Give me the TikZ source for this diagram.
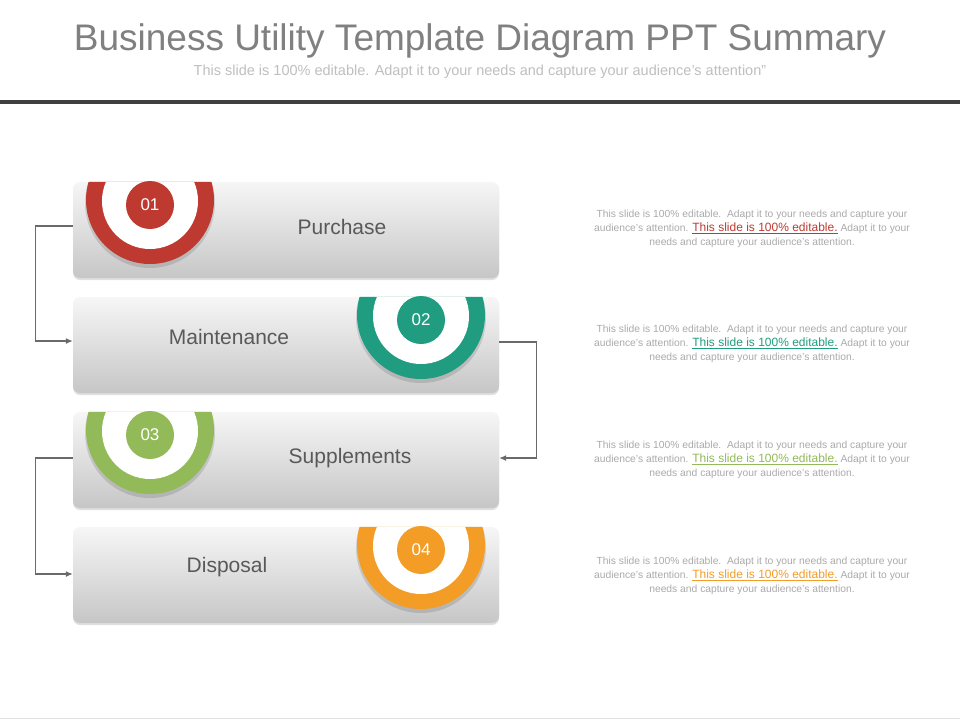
\documentclass[tikz,border=0pt]{standalone}
\usepackage{fontspec}
\setmainfont{Liberation Sans}
\usetikzlibrary{positioning,shadows,arrows.meta}
\definecolor{cRed}{RGB}{190,58,49}
\definecolor{cTeal}{RGB}{32,157,128}
\definecolor{cGreen}{RGB}{146,186,88}
\definecolor{cOrange}{RGB}{243,157,38}
\definecolor{txtgray}{RGB}{89,89,89}
\definecolor{titlegray}{RGB}{128,128,128}
\definecolor{paletext}{RGB}{170,170,170}
\definecolor{rulegray}{RGB}{64,64,64}
\definecolor{boxtop}{RGB}{246,246,246}
\definecolor{boxbot}{RGB}{198,198,198}
\tikzstyle{stepbox}=[rounded corners=7pt,minimum width=426pt,minimum height=96pt,inner sep=0pt,top color=boxtop,bottom color=boxbot,drop shadow={opacity=0.25,shadow xshift=0pt,shadow yshift=-2pt}]
\tikzstyle{lbl}=[font=\fontsize{21}{24}\selectfont,text=txtgray,inner sep=0pt]
\tikzstyle{numdot}=[circle,minimum size=48pt,inner sep=0pt,text=white,font=\fontsize{17}{19}\selectfont]
\tikzstyle{note}=[align=center,text=paletext,font=\fontsize{10.3}{14}\selectfont,inner sep=0pt]
\tikzstyle{conn}=[draw=txtgray!90,line width=1.2pt,-{Latex[length=7pt,width=6pt]}]
\newcommand{\editlink}[1]{{\fontsize{12}{14}\selectfont\color{#1}\underline{This slide is 100\% editable.}}}

\begin{document}
\begin{tikzpicture}[x=1pt,y=-1pt]
\useasboundingbox (0,0) rectangle (960,720);
\fill[white] (0,0) rectangle (960,720);
% heading
\draw (480,41) node [font=\fontsize{37}{40}\selectfont,text=titlegray] (title) {Business Utility Template Diagram PPT Summary};
\draw (480,72) node [font=\fontsize{14.5}{16}\selectfont,text=black!25] (sub) {This slide is 100\% editable. Adapt it to your needs and capture your audience's attention''};
\fill[rulegray] (0,100) rectangle (960,104);
\draw[black!12] (0,718) -- (960,718);
% boxes
\draw (286,230) node [stepbox] (b1) {};
\draw (286,345) node [stepbox] (b2) {};
\draw (286,460) node [stepbox] (b3) {};
\draw (286,575) node [stepbox] (b4) {};
% rings
\begin{scope}
\clip[rounded corners=7pt] (b1.south west) rectangle (b1.north east);
\fill[black,opacity=0.12] (150,203) circle (65pt);
\fill[cRed] (150,200) circle (64pt);
\fill[white] (150,201) circle (48pt);
\end{scope}
\begin{scope}
\clip[rounded corners=7pt] (b2.south west) rectangle (b2.north east);
\fill[black,opacity=0.12] (421,318) circle (65pt);
\fill[cTeal] (421,315) circle (64pt);
\fill[white] (421,316) circle (48pt);
\end{scope}
\begin{scope}
\clip[rounded corners=7pt] (b3.south west) rectangle (b3.north east);
\fill[black,opacity=0.12] (150,433) circle (65pt);
\fill[cGreen] (150,430) circle (64pt);
\fill[white] (150,431) circle (48pt);
\end{scope}
\begin{scope}
\clip[rounded corners=7pt] (b4.south west) rectangle (b4.north east);
\fill[black,opacity=0.12] (421,548) circle (65pt);
\fill[cOrange] (421,545) circle (64pt);
\fill[white] (421,546) circle (48pt);
\end{scope}
\draw (150,205) node [numdot,fill=cRed] (d1) {01};
\draw (421,320) node [numdot,fill=cTeal] (d2) {02};
\draw (150,435) node [numdot,fill=cGreen] (d3) {03};
\draw (421,550) node [numdot,fill=cOrange] (d4) {04};
% labels
\draw (342,227) node [lbl] (l1) {Purchase};
\draw (229,337) node [lbl] (l2) {Maintenance};
\draw (350,458) node [lbl] (l3) {Supplements};
\draw (227,567) node [lbl] (l4) {Disposal};
% flow
\draw[conn] ([yshift=4pt]b1.west) -- ++(-37,0) |- ([yshift=4pt]b2.west);
\draw[conn] ([yshift=3pt]b2.east) -- ++(37,0) |- ([yshift=2pt]b3.east);
\draw[conn] ([yshift=2pt]b3.west) -- ++(-37,0) |- ([yshift=1pt]b4.west);
% notes
\draw (752,229) node [note] (t1) {This slide is 100\% editable.\ \ Adapt it to your needs and capture your\\audience's attention. \editlink{cRed} Adapt it to your\\needs and capture your audience's attention.};
\draw (752,344) node [note] (t2) {This slide is 100\% editable.\ \ Adapt it to your needs and capture your\\audience's attention. \editlink{cTeal} Adapt it to your\\needs and capture your audience's attention.};
\draw (752,460) node [note] (t3) {This slide is 100\% editable.\ \ Adapt it to your needs and capture your\\audience's attention. \editlink{cGreen} Adapt it to your\\needs and capture your audience's attention.};
\draw (752,576) node [note] (t4) {This slide is 100\% editable.\ \ Adapt it to your needs and capture your\\audience's attention. \editlink{cOrange} Adapt it to your\\needs and capture your audience's attention.};
\end{tikzpicture}
\end{document}
